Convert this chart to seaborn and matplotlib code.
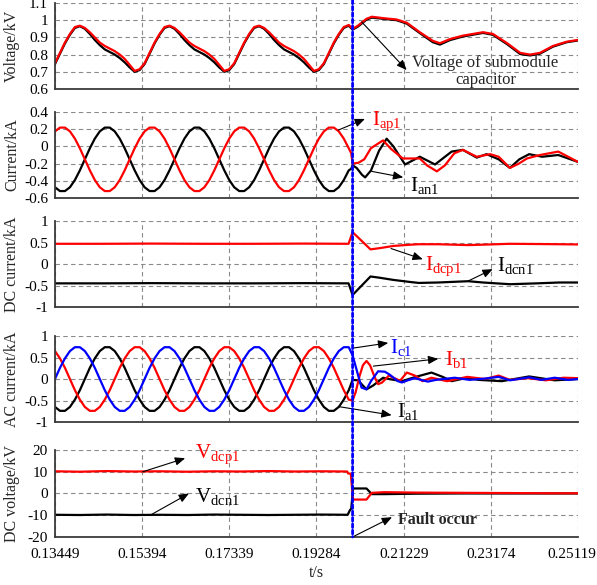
import numpy as np
import matplotlib
matplotlib.use("Agg")
import matplotlib.pyplot as plt
import seaborn as sns
from matplotlib.patches import ConnectionPatch
from matplotlib.transforms import ScaledTranslation

# ---- time axis ----
X_TICKS = [0.13449, 0.15394, 0.17339, 0.19284, 0.21229, 0.23174, 0.25119]
X_TICK_LABELS = ["0.13449", "0.15394", "0.17339", "0.19284", "0.21229", "0.23174", "0.25119"]
FAULT_T = 0.2009

# pre-fault samples read every 1/900 s from the left edge
t_pre = np.linspace(0.13449, 0.13449 + 59 / 900, 60)

# ---- panel 1: submodule capacitor voltage (kV) ----
vsm_red_pre = [0.75, 0.81, 0.87, 0.92, 0.96, 0.968, 0.955, 0.93, 0.90, 0.87, 0.85, 0.835, 0.82, 0.80, 0.775, 0.74, 0.705, 0.715,
               0.75, 0.81, 0.87, 0.92, 0.96, 0.968, 0.955, 0.93, 0.90, 0.87, 0.85, 0.835, 0.82, 0.80, 0.775, 0.74, 0.705, 0.715,
               0.75, 0.81, 0.87, 0.92, 0.96, 0.968, 0.955, 0.93, 0.90, 0.87, 0.85, 0.835, 0.82, 0.80, 0.775, 0.74, 0.705, 0.715,
               0.75, 0.81, 0.87, 0.92, 0.96, 0.972]
vsm_blk_pre = [0.745, 0.805, 0.865, 0.915, 0.955, 0.965, 0.95, 0.92, 0.885, 0.855, 0.83, 0.815, 0.80, 0.78, 0.755, 0.725, 0.70, 0.71,
               0.745, 0.805, 0.865, 0.915, 0.955, 0.965, 0.95, 0.92, 0.885, 0.855, 0.83, 0.815, 0.80, 0.78, 0.755, 0.725, 0.70, 0.71,
               0.745, 0.805, 0.865, 0.915, 0.955, 0.965, 0.95, 0.92, 0.885, 0.855, 0.83, 0.815, 0.80, 0.78, 0.755, 0.725, 0.70, 0.71,
               0.745, 0.805, 0.865, 0.915, 0.955, 0.968]
t_vsm_post = [0.2009, 0.2021, 0.2040, 0.2052, 0.2077, 0.2107, 0.2130, 0.2159, 0.2188, 0.2204, 0.2226,
              0.2255, 0.2300, 0.2322, 0.2354, 0.2383, 0.2405, 0.2427, 0.2456, 0.2487, 0.25119]
vsm_red_post = [0.950, 0.968, 1.008, 1.020, 1.012, 1.004, 0.985, 0.930, 0.880, 0.866, 0.890,
                0.910, 0.930, 0.920, 0.866, 0.810, 0.800, 0.810, 0.850, 0.875, 0.885]
vsm_blk_post = [0.945, 0.963, 1.003, 1.015, 1.008, 1.000, 0.980, 0.925, 0.872, 0.858, 0.884,
                0.905, 0.926, 0.915, 0.860, 0.803, 0.795, 0.805, 0.846, 0.872, 0.882]

# ---- panel 2: arm currents (kA) ----
iap_pre = [0.175, 0.219, 0.219, 0.175, 0.091, -0.022, -0.15, -0.278, -0.391, -0.475, -0.519, -0.519, -0.475, -0.391, -0.278, -0.15, -0.022, 0.091,
           0.175, 0.219, 0.219, 0.175, 0.091, -0.022, -0.15, -0.278, -0.391, -0.475, -0.519, -0.519, -0.475, -0.391, -0.278, -0.15, -0.022, 0.091,
           0.175, 0.219, 0.219, 0.175, 0.091, -0.022, -0.15, -0.278, -0.391, -0.475, -0.519, -0.519, -0.475, -0.391, -0.278, -0.15, -0.022, 0.091,
           0.175, 0.219, 0.219, 0.175, 0.091, -0.022]
ian_pre = [-0.475, -0.519, -0.519, -0.475, -0.391, -0.278, -0.15, -0.022, 0.091, 0.175, 0.219, 0.219, 0.175, 0.091, -0.022, -0.15, -0.278, -0.391,
           -0.475, -0.519, -0.519, -0.475, -0.391, -0.278, -0.15, -0.022, 0.091, 0.175, 0.219, 0.219, 0.175, 0.091, -0.022, -0.15, -0.278, -0.391,
           -0.475, -0.519, -0.519, -0.475, -0.391, -0.278, -0.15, -0.022, 0.091, 0.175, 0.219, 0.219, 0.175, 0.091, -0.022, -0.15, -0.278, -0.391,
           -0.475, -0.519, -0.519, -0.475, -0.391, -0.278]
t_iap_post = [0.2006, 0.2009, 0.2022, 0.2035, 0.2050, 0.2077, 0.2095, 0.2121, 0.2159, 0.2175, 0.2197, 0.2215,
              0.2236, 0.2255, 0.2286, 0.2316, 0.2335, 0.2360, 0.2380, 0.2398, 0.2427, 0.2468, 0.2490, 0.25119]
iap_post = [-0.08, -0.20, -0.19, -0.15, -0.02, 0.07, -0.03, -0.14, -0.14, -0.22, -0.29, -0.22,
            -0.08, -0.04, -0.12, -0.09, -0.12, -0.25, -0.20, -0.14, -0.10, -0.06, -0.12, -0.18]
t_ian_post = [0.2006, 0.2009, 0.2018, 0.2030, 0.2037, 0.2050, 0.2068, 0.2085, 0.2100, 0.2126, 0.2159, 0.2193,
              0.2230, 0.2255, 0.2286, 0.2308, 0.2335, 0.2360, 0.2381, 0.2403, 0.2432, 0.2468, 0.2490, 0.25119]
ian_post = [-0.26, -0.22, -0.25, -0.33, -0.36, -0.28, -0.05, 0.09, 0.00, -0.21, -0.12, -0.21,
            -0.06, -0.04, -0.13, -0.09, -0.15, -0.25, -0.15, -0.09, -0.12, -0.10, -0.14, -0.18]

# ---- panel 3: DC currents (kA) ----
t_dc = [0.13449, 0.1450, 0.1560, 0.1680, 0.1790, 0.1900, 0.2000, 0.2009, 0.2049, 0.2070,
        0.2100, 0.2139, 0.2157, 0.2200, 0.2267, 0.2300, 0.2360, 0.2420, 0.2470, 0.25119]
idcp = [0.47, 0.47, 0.475, 0.47, 0.47, 0.475, 0.47, 0.74, 0.34, 0.37,
        0.42, 0.45, 0.46, 0.46, 0.44, 0.45, 0.47, 0.465, 0.46, 0.455]
idcn = [-0.45, -0.45, -0.445, -0.45, -0.45, -0.445, -0.45, -0.72, -0.29, -0.32,
        -0.37, -0.42, -0.44, -0.43, -0.40, -0.43, -0.47, -0.45, -0.43, -0.43]

# ---- panel 4: AC phase currents (kA) ----
ia_pre = [-0.65, -0.74, -0.74, -0.65, -0.48, -0.26, 0, 0.26, 0.48, 0.65, 0.74, 0.74, 0.65, 0.48, 0.26, 0, -0.26, -0.48,
          -0.65, -0.74, -0.74, -0.65, -0.48, -0.26, 0, 0.26, 0.48, 0.65, 0.74, 0.74, 0.65, 0.48, 0.26, 0, -0.26, -0.48,
          -0.65, -0.74, -0.74, -0.65, -0.48, -0.26, 0, 0.26, 0.48, 0.65, 0.74, 0.74, 0.65, 0.48, 0.26, 0, -0.26, -0.48,
          -0.65, -0.74, -0.74, -0.65, -0.48, -0.26]
ib_pre = [0.65, 0.48, 0.26, 0, -0.26, -0.48, -0.65, -0.74, -0.74, -0.65, -0.48, -0.26, 0, 0.26, 0.48, 0.65, 0.74, 0.74,
          0.65, 0.48, 0.26, 0, -0.26, -0.48, -0.65, -0.74, -0.74, -0.65, -0.48, -0.26, 0, 0.26, 0.48, 0.65, 0.74, 0.74,
          0.65, 0.48, 0.26, 0, -0.26, -0.48, -0.65, -0.74, -0.74, -0.65, -0.48, -0.26, 0, 0.26, 0.48, 0.65, 0.74, 0.74,
          0.65, 0.48, 0.26, 0, -0.26, -0.48]
ic_pre = [0, 0.26, 0.48, 0.65, 0.74, 0.74, 0.65, 0.48, 0.26, 0, -0.26, -0.48, -0.65, -0.74, -0.74, -0.65, -0.48, -0.26,
          0, 0.26, 0.48, 0.65, 0.74, 0.74, 0.65, 0.48, 0.26, 0, -0.26, -0.48, -0.65, -0.74, -0.74, -0.65, -0.48, -0.26,
          0, 0.26, 0.48, 0.65, 0.74, 0.74, 0.65, 0.48, 0.26, 0, -0.26, -0.48, -0.65, -0.74, -0.74, -0.65, -0.48, -0.26,
          0, 0.26, 0.48, 0.65, 0.74, 0.74]
t_ia_post = [0.2009, 0.2021, 0.2040, 0.2055, 0.2077, 0.2090, 0.2119, 0.2150, 0.2185, 0.2210,
             0.2230, 0.2265, 0.2290, 0.2342, 0.2403, 0.2460, 0.25119]
ia_post = [-0.02, -0.03, -0.24, -0.15, 0.03, 0.00, -0.05, 0.05, 0.15, 0.05,
           -0.05, 0.03, -0.02, -0.05, 0.06, -0.03, 0.00]
t_ib_post = [0.2009, 0.2016, 0.2024, 0.2032, 0.2040, 0.2048, 0.2058, 0.2066, 0.2075, 0.2090,
             0.2102, 0.2115, 0.2130, 0.2148, 0.2165, 0.2185, 0.2220, 0.2265, 0.2304, 0.2335,
             0.2360, 0.2400, 0.2440, 0.2480, 0.25119]
ib_post = [-0.50, -0.30, 0.05, 0.32, 0.42, 0.32, 0.05, -0.12, -0.08, 0.08,
           0.02, -0.04, 0.15, 0.08, -0.05, 0.03, -0.05, 0.05, 0.00, 0.08,
           -0.02, 0.02, -0.03, 0.03, 0.02]
t_ic_post = [0.2009, 0.2021, 0.2029, 0.2040, 0.2050, 0.2066, 0.2081, 0.2092, 0.2110, 0.2119,
             0.2135, 0.2148, 0.2165, 0.2177, 0.2195, 0.2237, 0.2270, 0.2304, 0.2335, 0.2360,
             0.2403, 0.2430, 0.2460, 0.2490, 0.25119]
ic_post = [0.55, 0.10, -0.20, -0.24, -0.05, 0.18, 0.17, 0.10, -0.05, -0.08,
           -0.02, 0.02, -0.03, -0.06, -0.02, 0.03, -0.02, 0.01, 0.05, -0.03,
           0.04, -0.02, 0.03, -0.02, 0.00]

# ---- panel 5: DC pole voltages (kV) ----
t_vdcp = [0.13449, 0.1400, 0.1460, 0.1520, 0.1580, 0.1640, 0.1700, 0.1760, 0.1820, 0.1880, 0.1940,
          0.1997, 0.1999, 0.2005, 0.2010, 0.2040, 0.2052, 0.2080, 0.2150, 0.2250, 0.2350, 0.2450, 0.25119]
vdcp = [10.2, 10.0, 10.3, 10.1, 10.2, 10.0, 10.2, 10.1, 10.3, 10.1, 10.2,
        10.1, 9.2, 9.1, -2.8, -2.8, 0.3, 0.6, 0.4, 0.3, 0.2, 0.1, 0.1]
t_vdcn = [0.13449, 0.1400, 0.1460, 0.1520, 0.1580, 0.1640, 0.1700, 0.1760, 0.1820, 0.1880, 0.1940,
          0.1998, 0.2003, 0.2006, 0.2010, 0.2040, 0.2052, 0.2080, 0.2150, 0.2250, 0.25119]
vdcn = [-9.8, -9.9, -9.7, -9.9, -9.8, -9.9, -9.7, -9.8, -9.9, -9.8, -9.7,
        -9.8, -7.7, -7.0, 2.3, 2.3, -0.3, -0.3, -0.1, 0.0, 0.0]

# ---- axis text ----
Y_LABELS = ["Voltage/kV", "Current/kA", "DC current/kA", "AC current/kA", "DC voltage/kV"]
Y_LIMS = [(0.6, 1.1), (-0.6, 0.4), (-1, 1), (-1, 1), (-20, 20)]
Y_TICKS = [[0.6, 0.7, 0.8, 0.9, 1.0, 1.1],
           [-0.6, -0.4, -0.2, 0, 0.2, 0.4],
           [-1, -0.5, 0, 0.5, 1],
           [-1, -0.5, 0, 0.5, 1],
           [-20, -10, 0, 10, 20]]
Y_TICK_LABELS = [["0.6", "0.7", "0.8", "0.9", "1", "1.1"],
                 ["-0.6", "-0.4", "-0.2", "0", "0.2", "0.4"],
                 ["-1", "-0.5", "0", "0.5", "1"],
                 ["-1", "-0.5", "0", "0.5", "1"],
                 ["-20", "-10", "0", "10", "20"]]

RED, BLACK, BLUE = "#ff0000", "#000000", "#0000ff"

# panel boxes in figure fractions (left, bottom, width, height)
BOXES = [(0.0921, 0.8479, 0.876, 0.1470),
         (0.0921, 0.6615, 0.876, 0.1470),
         (0.0921, 0.4752, 0.876, 0.1470),
         (0.0921, 0.2786, 0.876, 0.1470),
         (0.0921, 0.0821, 0.876, 0.1487)]

sns.set_theme(style="white")
plt.rcParams["font.family"] = ["Liberation Serif", "DejaVu Serif"]
plt.rcParams["axes.unicode_minus"] = False
plt.rcParams["mathtext.fontset"] = "custom"
plt.rcParams["mathtext.rm"] = "Liberation Serif"

fig = plt.figure(figsize=(5.97, 5.85), dpi=100)
axes = [fig.add_axes(b) for b in BOXES]


def cat(a, b):
    return np.concatenate([np.asarray(a, float), np.asarray(b, float)])


series = [
    [(cat(t_pre, t_vsm_post), cat(vsm_blk_pre, vsm_blk_post), BLACK),
     (cat(t_pre, t_vsm_post), cat(vsm_red_pre, vsm_red_post), RED)],
    [(cat(t_pre, t_ian_post), cat(ian_pre, ian_post), BLACK),
     (cat(t_pre, t_iap_post), cat(iap_pre, iap_post), RED)],
    [(np.array(t_dc), np.array(idcn), BLACK),
     (np.array(t_dc), np.array(idcp), RED)],
    [(cat(t_pre, t_ia_post), cat(ia_pre, ia_post), BLACK),
     (cat(t_pre, t_ib_post), cat(ib_pre, ib_post), RED),
     (cat(t_pre, t_ic_post), cat(ic_pre, ic_post), BLUE)],
    [(np.array(t_vdcn), np.array(vdcn), BLACK),
     (np.array(t_vdcp), np.array(vdcp), RED)],
]

for i, ax in enumerate(axes):
    for t, v, c in series[i]:
        sns.lineplot(x=t, y=v, color=c, linewidth=1.6, estimator=None, sort=False, ax=ax)
    ax.set_xlim(X_TICKS[0], X_TICKS[-1])
    ax.set_ylim(*Y_LIMS[i])
    ax.set_xticks(X_TICKS)
    ax.set_yticks(Y_TICKS[i])
    ax.set_yticklabels(Y_TICK_LABELS[i])
    ax.grid(True, color="#8a8a8a", linestyle=(0, (4, 3)), linewidth=0.8)
    ax.tick_params(axis="both", length=0, labelsize=11, colors="black")
    ax.tick_params(axis="y", pad=5)
    ax.tick_params(axis="x", pad=8)
    for s in ["top", "right"]:
        ax.spines[s].set_visible(False)
    for s in ["left", "bottom"]:
        ax.spines[s].set_color("#3a3a3a")
        ax.spines[s].set_linewidth(1.3)
    ax.set_ylabel(Y_LABELS[i], fontsize=11.5)
    ax.yaxis.set_label_coords(-0.067, 0.5)
    if i < 4:
        ax.set_xticklabels([])
        ax.set_xlabel("")
    else:
        ax.set_xticklabels(X_TICK_LABELS)
        ax.set_xlabel("t/s", fontsize=11.5, labelpad=3)

# keep the last time label inside the picture, as in the original
last = axes[4].get_xticklabels()[-1]
last.set_horizontalalignment("right")
last.set_transform(last.get_transform() + ScaledTranslation(0.18, 0, fig.dpi_scale_trans))

# fault instant across all panels
fault = ConnectionPatch(xyA=(FAULT_T, 1.117), coordsA=axes[0].transData,
                        xyB=(FAULT_T, -20), coordsB=axes[4].transData,
                        color=BLUE, linestyle=(0, (1.3, 1.0)), linewidth=2.0, zorder=10)
fig.add_artist(fault)

arrow = dict(arrowstyle="-|>,head_length=0.6,head_width=0.25", color="black",
             lw=0.8, shrinkA=0, shrinkB=0, mutation_scale=10)

# (panel, text, colour, text pos, arrow tail, arrow head)
labels = [
    (1, r"$\mathregular{I_{ap1}}$", RED, (0.20523, 0.25), (0.19771, 0.19), (0.20366, 0.32)),
    (1, r"$\mathregular{I_{an1}}$", BLACK, (0.21371, -0.52), (0.20516, -0.29), (0.21221, -0.36)),
    (2, r"$\mathregular{I_{dcp1}}$", RED, (0.21698, -0.14), (0.20948, 0.36), (0.21656, 0.11)),
    (2, r"$\mathregular{I_{dcn1}}$", BLACK, (0.23302, -0.17), (0.22679, -0.39), (0.23217, -0.12)),
    (3, r"$\mathregular{I_{c1}}$", BLUE, (0.20924, 0.605), (0.20105, 0.72), (0.20886, 0.84)),
    (3, r"$\mathregular{I_{b1}}$", RED, (0.22151, 0.33), (0.20552, 0.30), (0.22002, 0.47)),
    (3, r"$\mathregular{I_{a1}}$", BLACK, (0.21080, -0.88), (0.19771, -0.64), (0.20962, -0.84)),
    (4, r"$\mathregular{V_{dcp1}}$", RED, (0.16568, 16.2), (0.15411, 10.0), (0.16354, 16.2)),
    (4, r"$\mathregular{V_{dcn1}}$", BLACK, (0.16568, -3.8), (0.15582, -9.9), (0.16439, 0.0)),
]
for p, txt, col, pos, tail, head in labels:
    axes[p].annotate("", xy=head, xytext=tail, arrowprops=arrow, zorder=11)
    axes[p].text(pos[0], pos[1], txt, color=col, fontsize=15, ha="left", va="baseline", zorder=11)

axes[0].annotate("", xy=(0.21297, 0.71), xytext=(0.20293, 0.99), arrowprops=arrow, zorder=11)
axes[0].text(0.23055, 0.70, "Voltage of submodule\ncapacitor", fontsize=12,
             ha="center", va="center", linespacing=1.05, zorder=11)

axes[4].annotate("", xy=(0.20970, -10.9), xytext=(FAULT_T, -20), arrowprops=arrow, zorder=11)
axes[4].text(0.21099, -12.1, "Fault occur", fontsize=11.5, fontweight="bold",
             ha="left", va="center", zorder=11)

fig.savefig("out.png", dpi=100)
